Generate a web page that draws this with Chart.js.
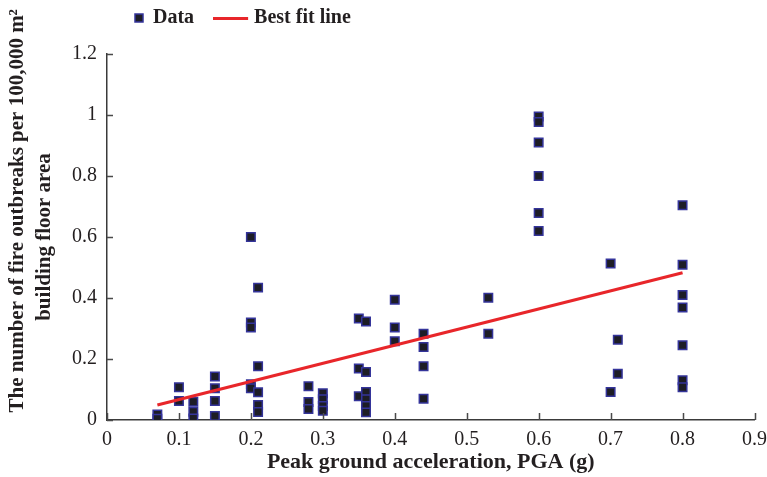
<!DOCTYPE html>
<html>
<head>
<meta charset="utf-8">
<script src="https://cdn.jsdelivr.net/npm/chart.js@4.4.1/dist/chart.umd.min.js"></script>
<style>
  html, body { margin: 0; padding: 0; background: #fff; }
  #wrap { width: 767px; height: 477px; position: relative; }
</style>
</head>
<body>
<div id="wrap"><canvas id="fireChart"></canvas></div>
<script>
// observations: PGA (g) and fire outbreaks per 100,000 m2 floor area
const pga = [
  0.07, 0.07,
  0.10, 0.10,
  0.12, 0.12, 0.12,
  0.15, 0.15, 0.15, 0.15,
  0.20, 0.20, 0.20, 0.20, 0.20,
  0.21, 0.21, 0.21, 0.21, 0.21,
  0.28, 0.28, 0.28,
  0.30, 0.30, 0.30, 0.30,
  0.35, 0.35, 0.35,
  0.36, 0.36, 0.36, 0.36, 0.36, 0.36,
  0.40, 0.40, 0.40,
  0.44, 0.44, 0.44, 0.44,
  0.53, 0.53,
  0.60, 0.60, 0.60, 0.60, 0.60, 0.60,
  0.70, 0.70,
  0.71, 0.71,
  0.80, 0.80, 0.80, 0.80, 0.80, 0.80, 0.80
];
const fireRate = [
  0.018, 0.004,
  0.107, 0.062,
  0.060, 0.027, 0.005,
  0.143, 0.104, 0.062, 0.013,
  0.600, 0.320, 0.303, 0.117, 0.104,
  0.434, 0.176, 0.091, 0.049, 0.026,
  0.111, 0.059, 0.036,
  0.088, 0.068, 0.046, 0.030,
  0.333, 0.169, 0.078,
  0.323, 0.157, 0.092, 0.068, 0.046, 0.025,
  0.394, 0.303, 0.258,
  0.283, 0.239, 0.176, 0.070,
  0.401, 0.283,
  0.995, 0.977, 0.910, 0.800, 0.679, 0.620,
  0.513, 0.092,
  0.263, 0.152,
  0.704, 0.509, 0.410, 0.369, 0.245, 0.130, 0.107
];

// best fit line end points
const fitX = [0.07, 0.80];
const fitY = [0.049, 0.483];

const xTickValues = [0, 0.1, 0.2, 0.3, 0.4, 0.5, 0.6, 0.7, 0.8, 0.9];
const yTickValues = [0, 0.2, 0.4, 0.6, 0.8, 1, 1.2];

const seriesNames = ['Data', 'Best fit line'];
const xTitle = 'Peak ground acceleration, PGA (g)';
// leading em spaces push the long first line up, as in the figure
const yTitle = ['\u2003\u2003\u2002The number of fire outbreaks per 100,000 m\u00b2', 'building floor area'];

const serif = "'Liberation Serif', 'Times New Roman', serif";
const ink = '#231f20';

// legend swatch for the fit line: drawn on the left part of a wider image
function lineSwatch() {
  const c = document.createElement('canvas');
  c.width = 54; c.height = 3;
  const g = c.getContext('2d');
  g.fillStyle = '#e8262a';
  g.fillRect(0, 0, 35, 3);
  return c;
}

// ticks pointing into the plot, as in the original figure
const innerTicks = {
  id: 'innerTicks',
  afterDatasetsDraw(chart) {
    const { ctx, chartArea, scales: { x, y } } = chart;
    ctx.save();
    ctx.strokeStyle = '#4a4a4a';
    ctx.lineWidth = 1.5;
    ctx.beginPath();
    x.ticks.forEach(t => {
      const px = Math.round(x.getPixelForValue(t.value)) + 0.5;
      ctx.moveTo(px, chartArea.bottom);
      ctx.lineTo(px, chartArea.bottom - 7);
    });
    y.ticks.forEach(t => {
      const py = Math.round(y.getPixelForValue(t.value)) + 0.5;
      ctx.moveTo(chartArea.left, py);
      ctx.lineTo(chartArea.left + 6, py);
    });
    ctx.stroke();
    ctx.restore();
  }
};

// move the legend row to where the figure has it
const legendSpot = {
  id: 'legendSpot',
  afterLayout(chart) {
    chart.legend.left = 93;
    chart.legend.top = -34;
  }
};

function boot() {
  const ctx = document.getElementById('fireChart').getContext('2d');
  new Chart(ctx, {
    data: {
      datasets: [
        {
          type: 'scatter',
          label: seriesNames[0],
          data: pga.map((v, i) => ({ x: v, y: fireRate[i] })),
          pointStyle: 'rect',
          pointRadius: 6,
          pointHoverRadius: 6,
          backgroundColor: '#1d1d26',
          borderColor: '#34349a',
          borderWidth: 1.5,
          order: 1
        },
        {
          type: 'line',
          label: seriesNames[1],
          data: fitX.map((v, i) => ({ x: v, y: fitY[i] })),
          borderColor: '#e8262a',
          backgroundColor: '#e8262a',
          borderWidth: 3,
          pointRadius: 0,
          pointStyle: lineSwatch(),
          fill: false,
          order: 0
        }
      ]
    },
    options: {
      responsive: true,
      maintainAspectRatio: false,
      animation: false,
      layout: { padding: { left: 0, right: 0, top: 0, bottom: 0 } },
      plugins: {
        tooltip: { enabled: false },
        legend: {
          position: 'top',
          align: 'start',
          maxHeight: 54,
          labels: {
            usePointStyle: true,
            boxWidth: 8,
            boxHeight: 8,
            padding: 42,
            color: ink,
            font: { family: serif, size: 20, weight: 'bold' },
            sort: (a, b) => a.datasetIndex - b.datasetIndex
          }
        }
      },
      scales: {
        x: {
          type: 'linear',
          min: 0,
          max: 0.9,
          afterBuildTicks: s => { s.ticks = xTickValues.map(v => ({ value: v })); },
          afterFit: s => { s.height = 57; },
          grid: { display: true, drawOnChartArea: false, drawTicks: true, tickLength: 8, color: 'rgba(0,0,0,0)' },
          border: { display: true, color: '#3a3a3a', width: 1.5 },
          ticks: { color: ink, padding: 0, font: { family: serif, size: 20 }, callback: v => String(v) },
          title: {
            display: true,
            text: xTitle,
            color: ink,
            padding: { top: 0, bottom: 1 },
            font: { family: serif, size: 22, weight: 'bold', lineHeight: 1.2 }
          }
        },
        y: {
          type: 'linear',
          min: 0,
          max: 1.2,
          afterBuildTicks: s => { s.ticks = yTickValues.map(v => ({ value: v })); },
          afterFit: s => { s.width = 107; },
          grid: { display: false, drawTicks: false },
          border: { display: true, color: '#3a3a3a', width: 1.5 },
          ticks: { color: ink, padding: 10, font: { family: serif, size: 20 }, callback: v => String(v) },
          title: {
            display: true,
            text: yTitle,
            color: ink,
            padding: { top: 4, bottom: 0 },
            font: { family: serif, size: 21, weight: 'bold', lineHeight: 1.3 }
          }
        }
      }
    },
    plugins: [innerTicks, legendSpot]
  });
}

if (document.readyState === 'loading') {
  document.addEventListener('DOMContentLoaded', boot, { once: true });
} else {
  boot();
}
</script>
</body>
</html>
